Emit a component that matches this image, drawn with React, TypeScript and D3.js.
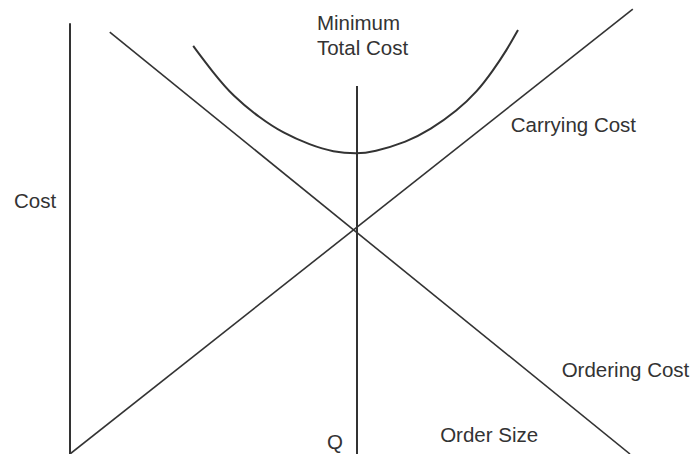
import React, { useEffect, useRef } from 'react';
import * as d3 from 'd3';

// Order size (x) vs cost (y), both in arbitrary units 0..100
const costAxis: [number, number][] = [[0, 0], [0, 97]];
const carryingCost: [number, number][] = [[0, 0], [100.5, 100.2]];
const orderingCost: [number, number][] = [[7.1, 95], [100, 0]];
const optimumQ: [number, number][] = [[51.25, 0], [51.25, 82.9]];
const totalCost: [number, number][] = [
  [22.0, 91.9], [25.5, 86.0], [29.1, 80.6], [33.9, 75.7], [38.0, 72.3],
  [42.9, 69.6], [47.0, 68.0], [51.25, 67.6], [54.1, 68.0], [60.2, 70.3],
  [64.3, 73.0], [69.1, 77.3], [72.7, 81.6], [75.5, 86.3], [78.0, 91.0],
  [80.0, 95.5],
];

// label text + anchor point in data units
const labels: { text: string; x: number; y: number }[] = [
  { text: 'Minimum', x: 44.1, y: 95.5 },
  { text: 'Total Cost', x: 44.1, y: 89.9 },
  { text: 'Carrying Cost', x: 78.7, y: 72.6 },
  { text: 'Cost', x: -10.0, y: 55.4 },
  { text: 'Ordering Cost', x: 87.8, y: 17.3 },
  { text: 'Q', x: 45.9, y: 1.1 },
  { text: 'Order Size', x: 66.1, y: 2.7 },
];

const W = 696;
const H = 454;

const App = () => {
  const ref = useRef<SVGSVGElement | null>(null);

  useEffect(() => {
    if (!ref.current) return;
    const svg = d3.select(ref.current);
    svg.selectAll('*').remove();

    const x = d3.scaleLinear().domain([0, 100]).range([70, 630]);
    const y = d3.scaleLinear().domain([0, 100]).range([454, 10]);

    const line = d3.line<[number, number]>()
      .x(d => x(d[0]))
      .y(d => y(d[1]));

    const ink = '#333333';

    // vertical cost axis
    svg.append('path')
      .attr('d', line(costAxis))
      .attr('fill', 'none')
      .attr('stroke', ink)
      .attr('stroke-width', 2);

    // Q line
    svg.append('path')
      .attr('d', line(optimumQ))
      .attr('fill', 'none')
      .attr('stroke', ink)
      .attr('stroke-width', 2);

    [carryingCost, orderingCost].forEach(seg => {
      svg.append('path')
        .attr('d', line(seg))
        .attr('fill', 'none')
        .attr('stroke', ink)
        .attr('stroke-width', 1.6);
    });

    // total cost curve
    svg.append('path')
      .attr('d', line.curve(d3.curveBasis)(totalCost))
      .attr('fill', 'none')
      .attr('stroke', ink)
      .attr('stroke-width', 2);

    svg.selectAll('text.lbl')
      .data(labels)
      .enter()
      .append('text')
      .attr('class', 'lbl')
      .attr('x', d => x(d.x))
      .attr('y', d => y(d.y))
      .attr('fill', ink)
      .style('font-family', '"Liberation Sans", Arial, sans-serif')
      .style('font-size', '20.5px')
      .text(d => d.text);
  }, []);

  return (
    <div style={{ position: 'absolute', left: 0, top: 0 }}>
      <svg ref={ref} width={W} height={H} style={{ display: 'block', background: '#fff' }} />
    </div>
  );
};

export default App;
